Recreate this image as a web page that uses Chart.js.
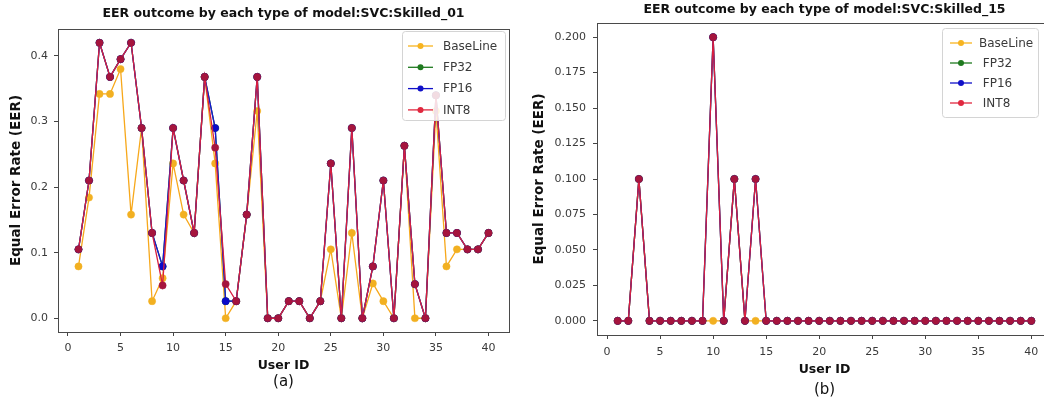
<!DOCTYPE html>
<html><head><meta charset="utf-8">
<script src="https://cdn.jsdelivr.net/npm/chart.js@4/dist/chart.umd.min.js"></script>
<style>
html,body{margin:0;padding:0;background:#fff;width:1044px;height:406px;overflow:hidden;}
#wa{position:absolute;left:0;top:0;width:530px;height:406px;}
#wb{position:absolute;left:530px;top:0;width:514px;height:406px;overflow:hidden;}
canvas{display:block;}
</style></head><body>
<div id="wa"><canvas id="ca" width="530" height="406"></canvas></div>
<div id="wb"><canvas id="cb" width="540" height="406"></canvas></div>
<script>
const userIds = [1,2,3,4,5,6,7,8,9,10,11,12,13,14,15,16,17,18,19,20,21,22,23,24,25,26,27,28,29,30,31,32,33,34,35,36,37,38,39,40];
const seriesNames = ['BaseLine','FP32','FP16','INT8'];
const seriesNames15 = ['BaseLine',' FP32',' FP16',' INT8'];

// Skilled_01
const baseline01 = [0.079,0.184,0.342,0.342,0.38,0.158,0.29,0.026,0.061,0.236,0.158,0.13,0.368,0.236,0.0,0.026,0.158,0.316,0.0,0.0,0.026,0.026,0.0,0.026,0.105,0.0,0.13,0.0,0.053,0.026,0.0,0.263,0.0,0.0,0.316,0.079,0.105,0.105,0.105,0.13];
const fp32_01 = [0.105,0.21,0.42,0.368,0.395,0.42,0.29,0.13,0.079,0.29,0.21,0.13,0.368,0.29,0.026,0.026,0.158,0.368,0.0,0.0,0.026,0.026,0.0,0.026,0.236,0.0,0.29,0.0,0.079,0.21,0.0,0.263,0.052,0.0,0.34,0.13,0.13,0.105,0.105,0.13];
const fp16_01 = [0.105,0.21,0.42,0.368,0.395,0.42,0.29,0.13,0.079,0.29,0.21,0.13,0.368,0.29,0.026,0.026,0.158,0.368,0.0,0.0,0.026,0.026,0.0,0.026,0.236,0.0,0.29,0.0,0.079,0.21,0.0,0.263,0.052,0.0,0.34,0.13,0.13,0.105,0.105,0.13];
const int8_01 = [0.105,0.21,0.42,0.368,0.395,0.42,0.29,0.13,0.05,0.29,0.21,0.13,0.368,0.26,0.052,0.026,0.158,0.368,0.0,0.0,0.026,0.026,0.0,0.026,0.236,0.0,0.29,0.0,0.079,0.21,0.0,0.263,0.052,0.0,0.34,0.13,0.13,0.105,0.105,0.13];

// Skilled_15
const baseline15 = [0,0,0.1,0,0,0,0,0,0,0,0,0.1,0,0,0,0,0,0,0,0,0,0,0,0,0,0,0,0,0,0,0,0,0,0,0,0,0,0,0,0];
const fp32_15 = [0,0,0.1,0,0,0,0,0,0,0.2,0,0.1,0,0.1,0,0,0,0,0,0,0,0,0,0,0,0,0,0,0,0,0,0,0,0,0,0,0,0,0,0];
const fp16_15 = [0,0,0.1,0,0,0,0,0,0,0.2,0,0.1,0,0.1,0,0,0,0,0,0,0,0,0,0,0,0,0,0,0,0,0,0,0,0,0,0,0,0,0,0];
const int8_15 = [0,0,0.1,0,0,0,0,0,0,0.2,0,0.1,0,0.1,0,0,0,0,0,0,0,0,0,0,0,0,0,0,0,0,0,0,0,0,0,0,0,0,0,0];

const xTicks = [0,5,10,15,20,25,30,35,40];
const yTicks01 = [0.0,0.1,0.2,0.3,0.4];
const yTicks15 = [0.000,0.025,0.050,0.075,0.100,0.125,0.150,0.175,0.200];

const FONT = 'DejaVu Sans';
const styles = [
  {line:'#f7a81b', point:'#f2b021', order:3},
  {line:'#1a7a1a', point:'#157015', order:2},
  {line:'#1515d8', point:'#0a0ac8', order:1},
  {line:'#d81e40', point:'#a5153d', order:0}
];
const legendColors = ['#f7b420','#1f7a1f','#1010c8','#e0283f'];

function mkData(arr){ return userIds.map((u,i)=>({x:u, y:arr[i]})); }
function mkDatasets(list, names){
  return list.map((arr,i)=>({
    label:names[i], data:mkData(arr),
    borderColor:styles[i].line, backgroundColor:styles[i].point,
    pointBackgroundColor:styles[i].point, pointBorderColor:styles[i].point,
    pointRadius:3.6, pointHoverRadius:3.6, pointBorderWidth:0.5,
    borderWidth:1.3, tension:0, order:styles[i].order, fill:false
  }));
}

const framePlugin = {
  id:'frame',
  afterDraw(chart, args, opts){
    const a = chart.chartArea, ctx = chart.ctx;
    ctx.save();
    ctx.strokeStyle = '#4a4a4a'; ctx.lineWidth = 1;
    ctx.strokeRect(Math.round(a.left)+0.5, Math.round(a.top)+0.5, Math.round(a.right-a.left), Math.round(a.bottom-a.top));
    const L = opts;
    if (L && L.box){
      const b = L.box;
      ctx.fillStyle = 'rgba(255,255,255,0.85)';
      ctx.strokeStyle = '#d4d4d4';
      ctx.beginPath();
      if (ctx.roundRect) ctx.roundRect(b.x+0.5,b.y+0.5,b.w,b.h,3); else ctx.rect(b.x+0.5,b.y+0.5,b.w,b.h);
      ctx.fill(); ctx.stroke();
      ctx.font = L.fontSize + 'px "' + FONT + '"';
      ctx.textBaseline = 'middle'; ctx.textAlign = 'left';
      chart.data.datasets.forEach((ds,i)=>{
        const y = L.y0 + i*L.dy;
        ctx.strokeStyle = legendColors[i]; ctx.lineWidth = 1.3;
        ctx.beginPath(); ctx.moveTo(L.lx0,y); ctx.lineTo(L.lx1,y); ctx.stroke();
        ctx.fillStyle = legendColors[i];
        ctx.beginPath(); ctx.arc((L.lx0+L.lx1)/2, y, 3, 0, Math.PI*2); ctx.fill();
        ctx.fillStyle = '#3a3a3a';
        ctx.fillText(ds.label, L.tx, y+0.5);
      });
    }
    ctx.restore();
  }
};

function makeChart(id, cfg){
  const xs = {
    type:'linear', min:-0.95, max:41.95,
    afterBuildTicks(s){ s.ticks = xTicks.map(v=>({value:v})); },
    afterFit(s){ s.height = cfg.xH; },
    grid:{display:true, drawOnChartArea:false, drawTicks:true, tickLength:4, color:'#444', tickWidth:1},
    border:{display:false},
    ticks:{color:'#3a3a3a', padding:cfg.xPad, maxRotation:0, autoSkip:false, font:{family:FONT,size:11}, callback:v=>String(v)},
    title:{display:true, text:'User ID', color:'#111', font:{family:FONT,size:12.5,weight:'bold'}, padding:{top:0,bottom:cfg.xTitlePb}}
  };
  const ys = {
    type:'linear', min:cfg.ymin, max:cfg.ymax,
    afterBuildTicks(s){ s.ticks = cfg.yTicks.map(v=>({value:v})); },
    afterFit(s){ s.width = cfg.yW; },
    grid:{display:true, drawOnChartArea:false, drawTicks:true, tickLength:4, color:'#444', tickWidth:1},
    border:{display:false},
    ticks:{color:'#3a3a3a', padding:cfg.yPad, autoSkip:false, font:{family:FONT,size:11}, callback:v=>v.toFixed(cfg.dec)},
    title:{display:true, text:'Equal Error Rate (EER)', color:'#111', font:{family:FONT,size:cfg.yTitleSize,weight:'bold'}, padding:{top:cfg.yTitlePt,bottom:0}}
  };
  return new Chart(document.getElementById(id), {
    type:'line',
    data:{datasets:mkDatasets(cfg.series, cfg.names)},
    options:{
      responsive:false, animation:false, devicePixelRatio:1,
      layout:{padding:{left:0,right:cfg.padR,top:0,bottom:0}},
      scales:{x:xs, y:ys},
      plugins:{
        legend:{display:false}, tooltip:{enabled:false},
        title:{display:true, fullSize:false, text:cfg.title, color:'#111', font:{family:FONT,size:12.5,weight:'bold'}, padding:{top:cfg.tPt,bottom:cfg.tPb}},
        subtitle:{display:true, fullSize:false, position:'bottom', text:cfg.sub, color:'#111', font:{family:FONT,size:15,weight:'normal'}, padding:{top:0,bottom:cfg.sPb}},
        frame:cfg.legend
      }
    },
    plugins:[framePlugin]
  });
}

makeChart('ca', {
  series:[baseline01,fp32_01,fp16_01,int8_01], names:seriesNames,
  title:'EER outcome by each type of model:SVC:Skilled_01', sub:'(a)',
  ymin:-0.021, ymax:0.441, yTicks:yTicks01, dec:1,
  padR:21, yW:58, xH:41, xPad:6, xTitlePb:0, yPad:6, yTitlePt:8, yTitleSize:13.5,
  tPt:6.5, tPb:7.5, sPb:15,
  legend:{box:{x:402,y:31,w:103,h:89}, y0:46, dy:21.3, lx0:408, lx1:433, tx:443, fontSize:12}
});

makeChart('cb', {
  series:[baseline15,fp32_15,fp16_15,int8_15], names:seriesNames15,
  title:'EER outcome by each type of model:SVC:Skilled_15', sub:'(b)',
  ymin:-0.01, ymax:0.21, yTicks:yTicks15, dec:3,
  padR:18, yW:67, xH:46, xPad:7, xTitlePb:3.8, yPad:7, yTitlePt:1, yTitleSize:13.5,
  tPt:2.5, tPb:5.5, sPb:7,
  legend:{box:{x:412,y:28,w:96,h:89}, y0:43, dy:20, lx0:420, lx1:442, tx:449, fontSize:12}
});
</script>
</body></html>
